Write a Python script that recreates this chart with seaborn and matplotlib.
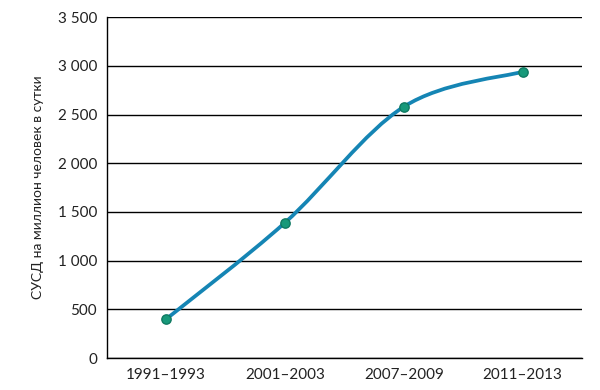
import numpy as np
import pandas as pd
import matplotlib
matplotlib.use("Agg")
import matplotlib.pyplot as plt
from matplotlib.path import Path
from matplotlib.patches import PathPatch
from matplotlib.ticker import FuncFormatter, FixedLocator
import seaborn as sns

periods = ["1991–1993", "2001–2003", "2007–2009", "2011–2013"]
values = [400, 1390, 2580, 2940]
y_ticks = [0, 500, 1000, 1500, 2000, 2500, 3000, 3500]
y_label = "СУСД на миллион человек в сутки"

sns.set_theme(style="white")
plt.rcParams["font.family"] = ["Lato", "DejaVu Sans"]

df = pd.DataFrame({"x": np.arange(len(periods)), "y": values})

fig = plt.figure(figsize=(6, 3.9), dpi=100)
ax = fig.add_axes([0.178, 0.082, 0.792, 0.874])

line_color = "#1585b4"
# smooth curve (Catmull-Rom -> cubic Bezier), in data coordinates
pts = df[["x", "y"]].to_numpy(dtype=float)
verts = [tuple(pts[0])]
codes = [Path.MOVETO]
n = len(pts)
for i in range(n - 1):
    p0 = pts[i - 1] if i > 0 else pts[i]
    p1 = pts[i]
    p2 = pts[i + 1]
    p3 = pts[i + 2] if i + 2 < n else pts[i + 1]
    c1 = p1 + (p2 - p0) / 6.0
    c2 = p2 - (p3 - p1) / 6.0
    verts += [tuple(c1), tuple(c2), tuple(p2)]
    codes += [Path.CURVE4] * 3
ax.add_patch(PathPatch(Path(verts, codes), fill=False, edgecolor=line_color,
                       lw=2.7, capstyle="round", zorder=3))

sns.scatterplot(data=df, x="x", y="y", ax=ax, s=45, color="#17997a",
                edgecolor="#0f7a62", linewidth=1.0, zorder=4, legend=False)

ax.set_xlim(-0.5, len(periods) - 0.5)
ax.set_ylim(0, 3500)
ax.set_yticks(y_ticks)
ax.yaxis.set_major_formatter(FuncFormatter(lambda v, p: f"{int(v):,}".replace(",", " ")))
ax.xaxis.set_major_locator(FixedLocator(np.arange(len(periods) + 1) - 0.5))
ax.set_xticklabels([])
ax.xaxis.set_minor_locator(FixedLocator(np.arange(len(periods))))
ax.set_xticklabels(periods, minor=True)
ax.tick_params(axis="x", which="major", direction="out", length=4, width=1, color="black")
ax.tick_params(axis="x", which="minor", length=0, pad=7, labelsize=11, labelcolor="#222222")
ax.tick_params(axis="y", direction="out", length=4, width=1, color="black",
               labelsize=11, labelcolor="#222222", pad=3)
ax.grid(axis="y", color="black", lw=1.0)
ax.set_axisbelow(True)
for s in ["top", "right"]:
    ax.spines[s].set_visible(False)
for s in ["left", "bottom"]:
    ax.spines[s].set_color("black")
    ax.spines[s].set_linewidth(1.0)
ax.set_xlabel("")
ax.set_ylabel(y_label, fontsize=10, color="#222222", labelpad=10)

fig.savefig("out.png", dpi=100)
